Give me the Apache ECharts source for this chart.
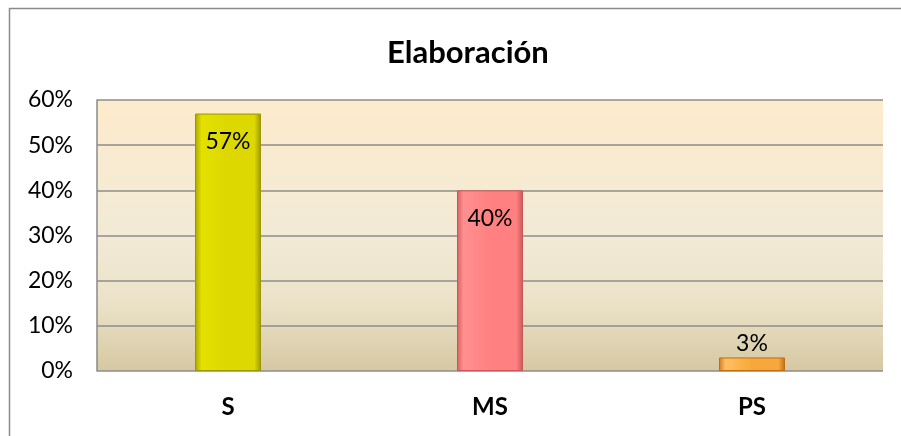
<!DOCTYPE html>
<html><head><meta charset="utf-8">
<script src="https://cdn.jsdelivr.net/npm/echarts@6/dist/echarts.min.js"></script>
<style>html,body{margin:0;padding:0;background:#fff}#c{width:901px;height:436px}</style>
</head><body><div id="c"></div>
<script>
const title = 'Elaboración';
const categories = ['S', 'MS', 'PS'];
const values = [57, 40, 3];
const yTicks = [0, 10, 20, 30, 40, 50, 60];
const barColors = [
  ['#a9a600', '#e4e100', '#dcd800', '#9a9700'],
  ['#d86060', '#ff9090', '#ff8080', '#c85858'],
  ['#d07a20', '#ffc060', '#f7a83c', '#c06c18']
];
const FONT = 'Lato, "Open Sans", sans-serif';
const chart = echarts.init(document.getElementById('c'));
chart.setOption({
  animation: false,
  title: { text: title, left: 382, top: 32, textStyle: { fontFamily: FONT, fontSize: 31, fontWeight: 'bold', color: '#000' } },
  graphic: [{ type: 'rect', shape: { x: 9.5, y: 8.5, width: 1000, height: 1000 }, style: { fill: 'none', stroke: '#8a8a8a', lineWidth: 1.5 }, z: -10 }],
  grid: {
    left: 97, right: 18, top: 100, bottom: 65, show: true, borderWidth: 0,
    backgroundColor: new echarts.graphic.LinearGradient(0, 0, 0, 1, [
      { offset: 0, color: '#fdebcc' }, { offset: 0.5, color: '#f2ead6' }, { offset: 0.75, color: '#ebe2c8' }, { offset: 1, color: '#d6c8a2' }
    ])
  },
  xAxis: {
    type: 'category', data: categories,
    axisLine: { show: false }, axisTick: { show: false },
    axisLabel: { fontFamily: FONT, fontSize: 24, fontWeight: 'bold', color: '#000', margin: 24 }
  },
  yAxis: {
    type: 'value', min: 0, max: 60, interval: 10,
    axisLine: { show: true, lineStyle: { color: '#8a8a8a', width: 1.5 } },
    axisTick: { show: false },
    splitLine: { lineStyle: { color: '#8c8c8c', width: 1.5 } },
    axisLabel: { fontFamily: FONT, fontSize: 23, color: '#000', margin: 24, formatter: v => yTicks.includes(v) ? v + '%' : '' }
  },
  series: [{
    type: 'bar', barWidth: 66,
    data: values.map((v, i) => ({
      value: v,
      itemStyle: {
        color: new echarts.graphic.LinearGradient(0, 0, 1, 0, [
          { offset: 0, color: barColors[i][0] }, { offset: 0.1, color: barColors[i][1] },
          { offset: 0.5, color: barColors[i][2] }, { offset: 0.9, color: barColors[i][2] }, { offset: 1, color: barColors[i][3] }
        ]),
        borderColor: barColors[i][3], borderWidth: 1
      },
      label: v < 10 ? { show: true, position: 'top', distance: 2 } : { show: true, position: 'insideTop', distance: 17 }
    })),
    label: { fontFamily: FONT, fontSize: 23, color: '#000', formatter: p => p.value + '%' }
  }]
});
</script></body></html>
